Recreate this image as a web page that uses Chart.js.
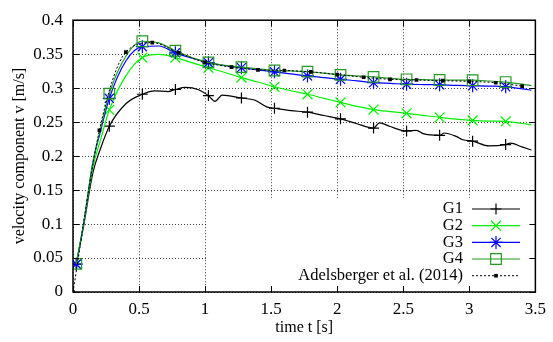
<!DOCTYPE html>
<html>
<head>
<meta charset="utf-8">
<script src="https://cdn.jsdelivr.net/npm/chart.js@4.4.0/dist/chart.umd.min.js"></script>
<style>
    html, body { margin: 0; padding: 0; background: #fff; }
    canvas { display: block; }
</style>
</head>
<body>
<canvas id="velocityChart" width="553" height="342"></canvas>
<script>
// Simulation time grid [s] (markers every 0.25 s starting at 0.025 s)
var simTimes = [0.025, 0.08, 0.15, 0.21, 0.275, 0.4, 0.525, 0.65, 0.775, 0.9,
    1.025, 1.15, 1.275, 1.4, 1.525, 1.65, 1.775, 1.9, 2.025, 2.15,
    2.275, 2.4, 2.525, 2.65, 2.775, 2.9, 3.025, 3.15, 3.275, 3.4, 3.47];
var g2Values = [0.041, 0.099, 0.183, 0.225, 0.268, 0.318, 0.345, 0.3496, 0.345, 0.3375,
    0.330, 0.323, 0.3156, 0.309, 0.302, 0.2962, 0.291, 0.285, 0.279, 0.2733,
    0.2685, 0.2655, 0.263, 0.260, 0.257, 0.2545, 0.2525, 0.2515, 0.251, 0.248, 0.246];
var g3Values = [0.041, 0.100, 0.190, 0.238, 0.285, 0.340, 0.361, 0.362, 0.352, 0.344,
    0.3375, 0.333, 0.330, 0.327, 0.324, 0.321, 0.318, 0.3156, 0.313, 0.3108,
    0.308, 0.307, 0.3058, 0.3053, 0.305, 0.304, 0.3035, 0.303, 0.302, 0.299, 0.297];
var g4Values = [0.0415, 0.100, 0.190, 0.242, 0.292, 0.347, 0.369, 0.3666, 0.355, 0.345,
    0.338, 0.3335, 0.331, 0.3285, 0.326, 0.3253, 0.3243, 0.322, 0.3195, 0.318,
    0.3166, 0.3145, 0.313, 0.3125, 0.312, 0.3118, 0.3117, 0.3105, 0.309, 0.306, 0.3035];

// G1 is noisier, so it has its own time grid
var g1Times = [0.025, 0.08, 0.15, 0.21, 0.275, 0.4, 0.525, 0.62, 0.72, 0.775,
    0.85, 0.95, 1.025, 1.075, 1.13, 1.275, 1.374, 1.47, 1.525, 1.65,
    1.775, 1.9, 2.025, 2.15, 2.275, 2.32, 2.4, 2.525, 2.6, 2.65,
    2.775, 2.81, 2.9, 2.95, 3.025, 3.15, 3.275, 3.31, 3.4, 3.47];
var g1Values = [0.041, 0.097, 0.175, 0.212, 0.244, 0.277, 0.291, 0.296, 0.295, 0.298,
    0.301, 0.2977, 0.289, 0.2806, 0.2898, 0.2855, 0.2825, 0.272, 0.2704, 0.267,
    0.2646, 0.2597, 0.2548, 0.2476, 0.2412, 0.249, 0.2435, 0.237, 0.238, 0.233,
    0.2306, 0.234, 0.229, 0.224, 0.222, 0.215, 0.217, 0.219, 0.2135, 0.209];

// Adelsberger et al. (2014) reference data
var adelTimes = [0, 0.2, 0.4, 0.6, 0.8, 1.0, 1.2, 1.4, 1.6, 1.8, 2.0, 2.2, 2.4, 2.6, 2.8, 3.0, 3.2, 3.4];
var adelValues = [0, 0.238, 0.353, 0.367, 0.352, 0.338, 0.331, 0.327, 0.326, 0.324,
    0.320, 0.316, 0.313, 0.312, 0.311, 0.310, 0.308, 0.303];

var xTicks = [0, 0.5, 1, 1.5, 2, 2.5, 3, 3.5];
var yTicks = [0, 0.05, 0.1, 0.15, 0.2, 0.25, 0.3, 0.35, 0.4];

var FONT = '"Liberation Serif", "Times New Roman", serif';
var FONT_SIZE = 16;
var TICK_SIZE = 17;

function toPoints(times, values) {
    return times.map(function (t, i) { return { x: t, y: values[i] }; });
}

function isMarkerTime(t) {
    var k = (t - 0.025) / 0.25;
    return Math.abs(k - Math.round(k)) < 1e-6;
}

function simDataSet(label, times, values, color, pointStyle, radius, order) {
    return {
        label: label,
        data: toPoints(times, values),
        borderColor: color,
        backgroundColor: 'rgba(0,0,0,0)',
        borderWidth: 1.2,
        pointStyle: pointStyle,
        pointRadius: function (ctx) {
            return ctx.raw && isMarkerTime(ctx.raw.x) ? radius : 0;
        },
        pointBorderColor: color,
        pointBackgroundColor: 'rgba(0,0,0,0)',
        pointBorderWidth: 1.2,
        cubicInterpolationMode: 'monotone',
        order: order,
        legendMarker: { style: pointStyle, radius: radius }
    };
}

var datasets = [
    simDataSet('G1', g1Times, g1Values, '#000000', 'cross', 5.5, 5),
    simDataSet('G2', simTimes, g2Values, '#00f000', 'crossRot', 7, 4),
    simDataSet('G3', simTimes, g3Values, '#0000ff', 'star', 6.5, 3),
    simDataSet('G4', simTimes, g4Values, '#229922', 'rect', 7.5, 2),
    {
        label: 'Adelsberger et al. (2014)',
        data: toPoints(adelTimes, adelValues),
        borderColor: '#000000',
        borderWidth: 1,
        borderDash: [2, 2],
        pointStyle: 'rect',
        pointRadius: 2.6,
        pointBorderWidth: 0,
        pointBackgroundColor: '#000000',
        cubicInterpolationMode: 'monotone',
        order: 1,
        dashed: true,
        legendMarker: { style: 'rect', radius: 2.6, filled: true }
    }
];

// gnuplot-like decorations: key box, inner ticks, frame, key, rotated y label
var gnuplotFrame = {
    id: 'gnuplotFrame',
    beforeDatasetsDraw: function (chart) {
        var ctx = chart.ctx, area = chart.chartArea;
        ctx.save();
        ctx.fillStyle = '#ffffff';
        ctx.fillRect(208, 198, area.right - 208, area.bottom - 198);
        ctx.restore();
    },
    afterDatasetsDraw: function (chart) {
        var ctx = chart.ctx, area = chart.chartArea;
        var xs = chart.scales.x, ys = chart.scales.y;
        var len = 6;
        ctx.save();
        ctx.strokeStyle = '#000';
        ctx.lineWidth = 1;
        ctx.beginPath();
        xTicks.forEach(function (v) {
            var px = Math.round(xs.getPixelForValue(v)) + 0.5;
            ctx.moveTo(px, area.bottom); ctx.lineTo(px, area.bottom - len);
            ctx.moveTo(px, area.top); ctx.lineTo(px, area.top + len);
        });
        yTicks.forEach(function (v) {
            var py = Math.round(ys.getPixelForValue(v)) + 0.5;
            ctx.moveTo(area.left, py); ctx.lineTo(area.left + len, py);
            ctx.moveTo(area.right, py); ctx.lineTo(area.right - len, py);
        });
        ctx.stroke();
        ctx.lineWidth = 1.5;
        ctx.strokeRect(area.left, area.top, area.right - area.left, area.bottom - area.top);
        ctx.restore();
    },
    afterDraw: function (chart) {
        var ctx = chart.ctx;
        ctx.save();
        ctx.fillStyle = '#000';

        // y axis title
        ctx.save();
        ctx.font = FONT_SIZE + 'px ' + FONT;
        ctx.translate(20, 156);
        ctx.rotate(-Math.PI / 2);
        ctx.textAlign = 'center';
        ctx.textBaseline = 'middle';
        ctx.fillText('velocity component v [m/s]', 0, 0);
        ctx.restore();

        // key
        var textRight = 463, lineFrom = 472, lineTo = 520, mark = 496;
        var rowY = [209, 225.7, 242.4, 259, 275.7];
        ctx.font = '16.5px ' + FONT;
        ctx.textAlign = 'right';
        ctx.textBaseline = 'middle';
        chart.data.datasets.forEach(function (ds, i) {
            var y = rowY[i];
            ctx.fillStyle = '#000';
            ctx.fillText(ds.label, textRight, y);
            ctx.save();
            ctx.strokeStyle = ds.borderColor;
            ctx.lineWidth = ds.borderWidth;
            ctx.setLineDash(ds.dashed ? [2, 2] : []);
            ctx.beginPath();
            ctx.moveTo(lineFrom, y);
            ctx.lineTo(lineTo, y);
            ctx.stroke();
            ctx.setLineDash([]);
            ctx.fillStyle = ds.legendMarker.filled ? ds.borderColor : 'rgba(0,0,0,0)';
            ctx.lineWidth = ds.legendMarker.filled ? 0 : 1.2;
            Chart.helpers.drawPoint(ctx, {
                pointStyle: ds.legendMarker.style,
                radius: ds.legendMarker.radius,
                rotation: 0,
                borderWidth: ds.legendMarker.filled ? 0 : 1.2
            }, mark, y);
            ctx.restore();
        });
        ctx.restore();
    }
};

function tickText(v) {
    return String(+v.toFixed(2));
}

new Chart(document.getElementById('velocityChart'), {
    type: 'line',
    data: { datasets: datasets },
    options: {
        responsive: false,
        devicePixelRatio: 1,
        animation: false,
        events: [],
        layout: { padding: { left: 0, top: 17, right: 12, bottom: 0 } },
        plugins: {
            legend: { display: false },
            tooltip: { enabled: false }
        },
        scales: {
            x: {
                type: 'linear',
                min: 0,
                max: 3.5,
                afterFit: function (scale) { scale.height = 50; },
                afterBuildTicks: function (scale) {
                    scale.ticks = xTicks.map(function (v) { return { value: v }; });
                },
                ticks: {
                    color: '#000',
                    font: { family: FONT, size: TICK_SIZE },
                    padding: 7,
                    maxRotation: 0,
                    callback: tickText
                },
                grid: { color: 'rgba(0,0,0,0.75)', lineWidth: 1, drawTicks: false },
                border: { display: false, dash: [1, 2] },
                title: {
                    display: true,
                    text: 'time t [s]',
                    color: '#000',
                    font: { family: FONT, size: FONT_SIZE },
                    padding: { top: 0, bottom: 5 }
                }
            },
            y: {
                type: 'linear',
                min: 0,
                max: 0.4,
                afterFit: function (scale) { scale.width = 73; },
                afterBuildTicks: function (scale) {
                    scale.ticks = yTicks.map(function (v) { return { value: v }; });
                },
                ticks: {
                    color: '#000',
                    font: { family: FONT, size: TICK_SIZE },
                    padding: 10,
                    callback: tickText
                },
                grid: { color: 'rgba(0,0,0,0.75)', lineWidth: 1, drawTicks: false },
                border: { display: false, dash: [1, 2] }
            }
        }
    },
    plugins: [gnuplotFrame]
});
</script>
</body>
</html>
